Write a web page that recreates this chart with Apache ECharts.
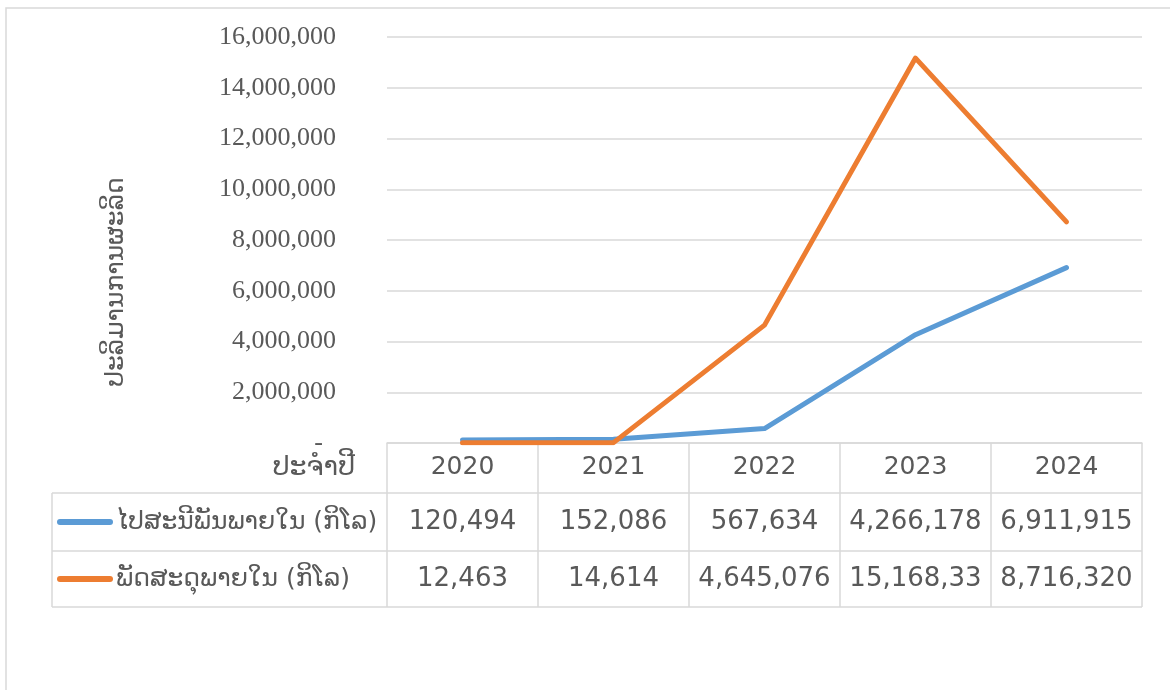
<!DOCTYPE html>
<html>
<head>
<meta charset="utf-8">
<script src="https://cdn.jsdelivr.net/npm/echarts@6/dist/echarts.min.js"></script>
<style>
    html, body { margin: 0; padding: 0; background: #fff; }
    #main { width: 1170px; height: 690px; }
</style>
</head>
<body>
<div id="main"></div>
<script>
// ຂໍ້ມູນ
var years = ['2020', '2021', '2022', '2023', '2024'];
var postName = 'ໄປສະນີພັນພາຍໃນ (ກິໂລ)';
var parcelName = 'ພັດສະດຸພາຍໃນ (ກິໂລ)';
var postValues = [120494, 152086, 567634, 4266178, 6911915];
var parcelValues = [12463, 14614, 4645076, 15168330, 8716320];
var postLabels = ['120,494', '152,086', '567,634', '4,266,178', '6,911,915'];
var parcelLabels = ['12,463', '14,614', '4,645,076', '15,168,33', '8,716,320'];
var yTicks = [0, 2000000, 4000000, 6000000, 8000000, 10000000, 12000000, 14000000, 16000000];

var gridColor = '#d9d9d9';
var textColor = '#595959';
var blue = '#5b9bd5';
var orange = '#ed7d31';
var tableFont = 'DejaVu Sans';

var chart = echarts.init(document.getElementById('main'));
var option = {
    animation: false,
    backgroundColor: '#fff',
    grid: { left: 387, right: 28, top: 37, bottom: 247 },
    xAxis: {
        type: 'category',
        data: years,
        boundaryGap: true,
        axisLine: { lineStyle: { color: gridColor, width: 1.5 } },
        axisTick: { show: true, length: 164, interval: 0, lineStyle: { color: gridColor, width: 1.5 } },
        axisLabel: { margin: 12, fontSize: 25, color: textColor, fontFamily: tableFont }
    },
    yAxis: {
        type: 'value',
        min: yTicks[0],
        max: yTicks[yTicks.length - 1],
        interval: 2000000,
        axisLine: { show: false },
        axisTick: { show: false },
        splitLine: { lineStyle: { color: gridColor, width: 1.5 } },
        axisLabel: {
            margin: 51,
            fontSize: 26,
            color: textColor,
            fontFamily: 'Liberation Serif',
            formatter: function (v) {
                return v === 0 ? '-  ' : v.toLocaleString('en-US');
            }
        }
    },
    series: [{
        name: postName,
        type: 'line',
        data: postValues,
        symbol: 'none',
        lineStyle: { color: blue, width: 5, cap: 'round', join: 'round' }
    }, {
        name: parcelName,
        type: 'line',
        data: parcelValues,
        symbol: 'none',
        lineStyle: { color: orange, width: 5, cap: 'round', join: 'round' }
    }]
};
chart.setOption(option);

// ຕາຕະລາງຂໍ້ມູນ
var rowTop = [493, 551, 607];
var rowMid = [522, 579];
var tableLeft = 52;
var tableRight = 1142;
var graphics = [];

// ກອບນອກ
graphics.push({
    type: 'rect', silent: true,
    shape: { x: 6, y: 8, width: 1190, height: 700 },
    style: { fill: null, stroke: gridColor, lineWidth: 1.5 }
});

// ຊື່ແກນ Y
graphics.push({
    type: 'text', silent: true,
    x: 116, y: 282, rotation: Math.PI / 2,
    style: { x: 0, y: 0, text: 'ປະລິມານການຜະລິດ', fill: textColor, font: '25px "' + tableFont + '"', align: 'center', verticalAlign: 'middle' }
});

rowTop.forEach(function (y) {
    graphics.push({
        type: 'line', silent: true,
        shape: { x1: tableLeft, y1: y, x2: tableRight, y2: y },
        style: { stroke: gridColor, lineWidth: 1.5 }
    });
});
graphics.push({
    type: 'line', silent: true,
    shape: { x1: tableLeft, y1: rowTop[0], x2: tableLeft, y2: rowTop[2] },
    style: { stroke: gridColor, lineWidth: 1.5 }
});

// ຫົວຕາຕະລາງ
graphics.push({
    type: 'text', silent: true,
    style: { x: 355, y: 468, text: 'ປະຈຳປີ', fill: textColor, font: '27px "' + tableFont + '"', align: 'right', verticalAlign: 'middle' }
});

var rows = [
    { name: postName, color: blue, labels: postLabels },
    { name: parcelName, color: orange, labels: parcelLabels }
];
rows.forEach(function (row, r) {
    var y = rowMid[r];
    graphics.push({
        type: 'line', silent: true,
        shape: { x1: 60, y1: y, x2: 110, y2: y },
        style: { stroke: row.color, lineWidth: 6, lineCap: 'round' }
    });
    graphics.push({
        type: 'text', silent: true,
        style: { x: 116, y: y, text: row.name, fill: textColor, font: '25px "' + tableFont + '"', align: 'left', verticalAlign: 'middle' }
    });
    row.labels.forEach(function (label, i) {
        var x = chart.convertToPixel({ xAxisIndex: 0 }, years[i]);
        graphics.push({
            type: 'text', silent: true,
            style: { x: x, y: y, text: label, fill: textColor, font: '26px "' + tableFont + '"', align: 'center', verticalAlign: 'middle' }
        });
    });
});

chart.setOption({ graphic: graphics });
</script>
</body>
</html>
